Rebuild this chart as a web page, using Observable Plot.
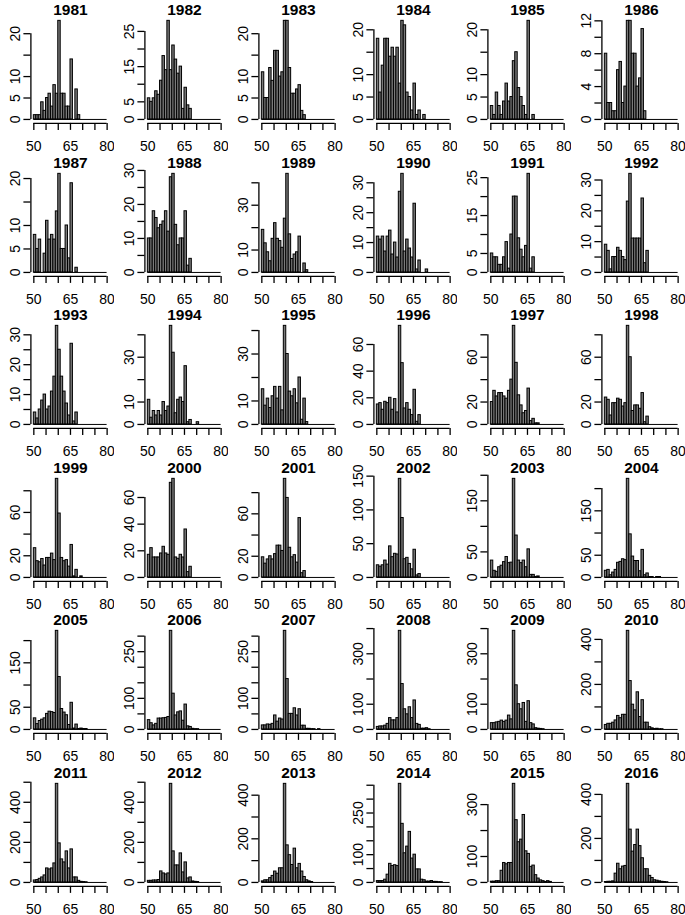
<!DOCTYPE html>
<html><head><meta charset="utf-8">
<script src="https://cdn.jsdelivr.net/npm/d3@7"></script>
<script src="https://cdn.jsdelivr.net/npm/@observablehq/plot@0.6"></script>
<style>
body{margin:0;background:#fff;}
#grid{position:relative;width:685px;height:915px;background:#fff;}
.panel{position:absolute;}
</style></head><body><div id="grid"></div>
<script>
const years = [1981,1982,1983,1984,1985,1986,1987,1988,1989,1990,1991,1992,1993,1994,1995,1996,1997,1998,1999,2000,2001,2002,2003,2004,2005,2006,2007,2008,2009,2010,2011,2012,2013,2014,2015,2016];
// counts per 1-year bin starting at 50
const c1981 = [1,1,1,4,2,5,6,3,8,6,23,6,6,3,3,14,0,7,1];
const c1982 = [6,5,6,8,7,11,18,14,28,14,21,17,13,15,3,9,4,3];
const c1983 = [11,5,5,12,9,16,16,10,11,23,23,12,6,6,7,8,2,1];
const c1984 = [18,6,12,18,18,14,16,14,16,8,22,21,6,5,2,8,1,2,0,1];
const c1985 = [3,1,6,3,1,4,8,4,5,13,15,7,5,3,1,22,0,1];
const c1986 = [8,2,2,1,1,6,7,2,4,12,12,8,8,4,5,11,1];
const c1987 = [8,5,7,0,4,11,7,8,7,13,21,5,5,10,3,19,0,1];
const c1988 = [10,10,18,16,13,14,15,18,12,28,29,14,8,10,10,18,2,4];
const c1989 = [19,13,9,5,15,22,15,14,11,24,44,17,6,8,9,16,0,4,1];
const c1990 = [12,11,12,7,12,14,6,10,5,27,33,7,11,8,5,23,1,4,0,0,1];
const c1991 = [5,4,4,2,2,4,8,1,10,20,20,9,6,4,7,26,1,4];
const c1992 = [9,7,1,5,5,8,7,5,4,23,32,11,11,11,11,24,3,7];
const c1993 = [4,2,5,8,10,5,6,11,16,33,25,16,11,7,3,27,1,4];
const c1994 = [11,3,6,4,6,4,10,6,8,44,32,5,11,12,10,26,1,2,0,0,1];
const c1995 = [15,8,11,7,12,16,11,16,6,42,30,14,12,15,9,20,2,11,1];
const c1996 = [15,16,11,17,16,20,11,19,9,74,46,12,16,11,7,26,2,7];
const c1997 = [20,30,25,28,28,25,23,30,40,88,55,26,17,10,12,32,3,5,1,1];
const c1998 = [24,22,8,19,19,23,22,16,19,88,60,12,17,17,14,28,2,7];
const c1999 = [27,15,14,17,11,18,18,22,16,91,59,18,15,16,10,30,1,7,0,1];
const c2000 = [17,22,15,15,15,18,23,18,17,71,74,15,14,17,15,36,4,8];
const c2001 = [19,13,17,20,17,22,30,30,25,93,75,28,19,21,14,56,4,6];
const c2002 = [18,16,18,25,19,46,30,35,34,146,88,27,29,20,12,41,3,5];
const c2003 = [33,13,11,20,23,30,40,28,29,193,82,33,28,33,20,55,5,5,1,2];
const c2004 = [15,17,5,11,17,33,35,41,39,222,97,47,37,37,14,62,5,9,1,1,0,1,1];
const c2005 = [25,12,19,22,25,35,40,39,37,222,118,46,38,32,10,60,2,11,1,2,1,1];
const c2006 = [30,20,13,18,35,35,36,37,40,317,115,45,55,58,28,80,10,8,2,1,1];
const c2007 = [13,13,16,15,18,45,25,35,32,317,162,50,50,68,45,65,12,12,2,2,1,1,0,1];
const c2008 = [10,12,12,15,22,45,36,36,45,391,180,80,60,88,45,115,22,18,3,3,5,1];
const c2009 = [25,25,28,30,35,30,35,55,40,391,175,100,80,105,30,112,25,20,5,3,2,1];
const c2010 = [20,25,25,30,40,60,50,65,65,438,215,110,85,165,55,130,30,30,10,5,2,3,1,1];
const c2011 = [10,12,18,25,35,70,65,70,95,492,195,115,100,155,70,165,25,25,8,3,2,1];
const c2012 = [8,8,10,10,12,55,45,40,45,492,155,85,85,145,50,100,20,25,5,3,2];
const c2013 = [5,10,10,20,30,50,40,65,65,452,170,125,80,155,65,85,50,25,10,5,2];
const c2014 = [5,5,5,10,28,67,59,62,59,355,211,105,129,182,86,100,47,47,10,8,3,3,5,2,2,1,1];
const c2015 = [3,3,5,5,45,75,70,75,75,380,240,155,165,260,120,110,60,65,28,15,8,5,2,5,2];
const c2016 = [2,3,3,5,40,85,60,72,75,448,240,140,170,240,165,110,60,60,30,20,10,8,5,3,2,1];
const allCounts = [c1981,c1982,c1983,c1984,c1985,c1986,c1987,c1988,c1989,c1990,c1991,c1992,c1993,c1994,c1995,c1996,c1997,c1998,c1999,c2000,c2001,c2002,c2003,c2004,c2005,c2006,c2007,c2008,c2009,c2010,c2011,c2012,c2013,c2014,c2015,c2016];
// y tick labels that are printed in each panel
const yLabels = [
  [0,5,10,20],[0,5,15,25],[0,5,10,20],[0,5,10,20],[0,5,10,20],[0,4,8,12],
  [0,5,10,20],[0,10,20,30],[0,10,30],[0,10,20,30],[0,5,15,25],[0,10,20,30],
  [0,10,20,30],[0,10,30],[0,10,30],[0,20,40,60],[0,20,60],[0,20,60],
  [0,20,60],[0,20,40,60],[0,20,60],[0,50,100,150],[0,50,150],[0,50,150],
  [0,50,150],[0,100,250],[0,100,250],[0,100,300],[0,100,300],[0,200,400],
  [0,200,400],[0,200,400],[0,200,400],[0,100,250],[0,100,300],[0,200,400]
];
const xTicks = [50,55,60,65,70,75,80];
const xLabels = [50,65,80];
const xRange = [50,80];
const binStart = 50, binWidth = 1;

// R-style pretty() for axis ticks
function rPretty(lo, up, ndiv) {
  const h = 0.8, h5 = 1.7;
  const cell = (up - lo) / ndiv;
  const base = Math.pow(10, Math.floor(Math.log10(cell)));
  let unit = base;
  if (2*base - cell < h*(cell - unit)) { unit = 2*base;
    if (5*base - cell < h5*(cell - unit)) { unit = 5*base;
      if (10*base - cell < h*(cell - unit)) unit = 10*base; } }
  const ns = Math.ceil(lo/unit - 1e-9), nu = Math.floor(up/unit + 1e-9);
  const t = [];
  for (let k = ns; k <= nu; k++) t.push(k*unit);
  return t;
}

const W = 685/6, H = 915/6;
const font = "'Liberation Sans', Arial, Helvetica, sans-serif";
const grid = document.getElementById("grid");
const xExt = (xRange[1]-xRange[0])*0.04;

years.forEach((yr, k) => {
  const counts = allCounts[k];
  const bins = counts.map((c, i) => ({x1: binStart + i*binWidth, x2: binStart + (i+1)*binWidth, y: c}));
  const max = d3.max(counts);
  const yDom = [-0.04*max, 1.04*max];
  const yTicks = rPretty(yDom[0], yDom[1], 5);
  const labs = yLabels[k];
  const p = Plot.plot({
    width: W, height: H,
    marginLeft: 30.4, marginRight: 4.6, marginTop: 16.4, marginBottom: 29.6,
    x: {domain: [xRange[0]-xExt, xRange[1]+xExt]},
    y: {domain: yDom},
    style: {fontFamily: font, fontSize: "14px", background: "white", color: "black", overflow: "visible"},
    marks: [
      Plot.rectY(bins, {x1: "x1", x2: "x2", y: "y", fill: "#7a7a7a", stroke: "black", strokeWidth: 1}),
      Plot.ruleY([0], {x1: xRange[0], x2: xRange[1], stroke: "black", strokeWidth: 1}),
      Plot.ruleY([yDom[0]], {x1: xRange[0], x2: xRange[1], stroke: "black", strokeWidth: 1.3}),
      Plot.axisX(xTicks, {anchor: "bottom", label: null, tickSize: 7, tickPadding: 11, strokeWidth: 1.3, fontSize: 14,
        tickFormat: d => xLabels.includes(d) ? String(d) : ""}),
      Plot.ruleX([xRange[0]-xExt], {y1: yTicks[0], y2: yTicks[yTicks.length-1], stroke: "black", strokeWidth: 1.3}),
      Plot.axisY(yTicks, {anchor: "left", label: null, tickSize: 7, strokeWidth: 1.3, tickFormat: () => ""}),
      Plot.text(labs, {y: d => d, text: d => String(d), frameAnchor: "left", dx: -15.5, rotate: -90,
        textAnchor: "middle", lineAnchor: "middle", fontSize: 14, fill: "black"}),
      Plot.text([String(yr)], {text: d => d, frameAnchor: "top", dy: -6.5, textAnchor: "middle", lineAnchor: "middle",
        fontWeight: "bold", fontSize: 15.5, fill: "black"})
    ]
  });
  const div = document.createElement("div");
  div.className = "panel";
  div.style.left = (k % 6) * W + "px";
  div.style.top = Math.floor(k / 6) * H + "px";
  div.appendChild(p);
  grid.appendChild(div);
});
</script></body></html>
